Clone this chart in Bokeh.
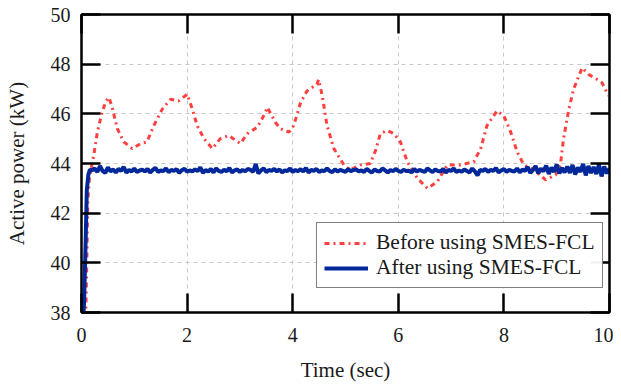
from bokeh.plotting import figure
from bokeh.models import (Range1d, LinearAxis, Legend, LegendItem, FixedTicker,
                          CustomLabelingPolicy)
from bokeh.embed import file_html
from bokeh.resources import INLINE

# ---- data ----
before_t = [0.08, 0.10, 0.12, 0.15, 0.20, 0.23, 0.30, 0.39, 0.46, 0.52, 0.58, 0.68, 0.80, 0.96,
            1.12, 1.24, 1.37, 1.53, 1.69, 1.84, 2.00, 2.10, 2.19, 2.32, 2.48, 2.63, 2.79,
            2.92, 3.01, 3.14, 3.33, 3.45, 3.52, 3.67, 3.77, 3.93, 4.02, 4.15, 4.27, 4.46,
            4.49, 4.56, 4.65, 4.78, 4.97, 5.09, 5.28, 5.47, 5.57, 5.66, 5.79, 5.92, 6.04,
            6.17, 6.36, 6.55, 6.74, 6.93, 7.18, 7.43, 7.56, 7.68, 7.87, 8.00, 8.13, 8.25,
            8.38, 8.57, 8.79, 8.98, 9.07, 9.13, 9.23, 9.32, 9.48, 9.61, 9.77, 9.86, 9.95, 10.0]
before_p = [37.8, 40.0, 42.5, 43.4, 44.0, 44.3, 45.26, 46.06, 46.5, 46.66, 46.26, 45.4, 44.87, 44.6,
            44.8, 44.87, 45.53, 46.19, 46.59, 46.52, 46.79, 46.19, 45.53, 45.0, 44.6, 45.0, 45.13,
            44.93, 44.8, 45.2, 45.46, 45.92, 46.26, 45.66, 45.4, 45.26, 45.53, 46.46, 46.92, 47.19,
            47.38, 46.72, 45.53, 44.6, 43.94, 43.74, 43.94, 44.0, 44.53, 45.2, 45.33, 45.2, 44.87,
            44.07, 43.41, 43.0, 43.27, 43.94, 43.94, 44.07, 44.6, 45.53, 46.12, 45.92, 45.26, 44.47,
            43.94, 43.74, 43.34, 43.54, 43.94, 45.0, 46.19, 46.99, 47.85, 47.58, 47.38, 47.25, 46.85, 46.7]

after_start_t = [0.02, 0.05, 0.08, 0.10, 0.13, 0.16]
after_start_p = [37.0, 38.5, 41.0, 42.9, 43.55, 43.75]
after_body_p = [
    43.72, 43.80, 43.66, 43.90, 43.70, 43.62, 43.85, 43.68, 43.76, 43.64, 43.78, 43.70, 43.86, 43.63, 43.74, 43.68, 43.80, 43.66, 43.72, 43.75,
    43.68, 43.78, 43.64, 43.74, 43.82, 43.66, 43.72, 43.69, 43.80, 43.65, 43.74, 43.70, 43.77, 43.63, 43.73, 43.79, 43.67, 43.72, 43.68, 43.76,
    43.70, 43.84, 43.62, 43.74, 43.68, 43.78, 43.64, 43.80, 43.70, 43.66, 43.75, 43.69, 43.82, 43.64, 43.72, 43.76, 43.66, 43.74, 43.69, 43.78,
    43.74, 43.66, 43.98, 43.60, 43.72, 43.80, 43.65, 43.74, 43.70, 43.78, 43.68, 43.76, 43.64, 43.72, 43.70, 43.80, 43.66, 43.74, 43.69, 43.77,
    43.68, 43.82, 43.64, 43.74, 43.70, 43.78, 43.66, 43.72, 43.69, 43.80, 43.70, 43.65, 43.76, 43.68, 43.74, 43.70, 43.66, 43.78, 43.69, 43.74,
    43.76, 43.68, 43.72, 43.66, 43.78, 43.70, 43.64, 43.76, 43.70, 43.68, 43.80, 43.72, 43.64, 43.74, 43.69, 43.78, 43.70, 43.66, 43.75, 43.70,
    43.71, 43.64, 43.78, 43.68, 43.74, 43.70, 43.66, 43.80, 43.72, 43.65, 43.76, 43.70, 43.68, 43.78, 43.64, 43.74, 43.70, 43.80, 43.66, 43.72,
    43.67, 43.76, 43.70, 43.64, 43.80, 43.68, 43.52, 43.74, 43.70, 43.78, 43.66, 43.74, 43.70, 43.82, 43.64, 43.72, 43.78, 43.66, 43.74, 43.70,
    43.68, 43.80, 43.64, 43.76, 43.70, 43.86, 43.62, 43.74, 43.90, 43.60, 43.80, 43.68, 43.92, 43.58, 43.84, 43.66, 43.96, 43.60, 43.82, 43.64,
    43.88, 43.62, 43.94, 43.56, 43.84, 43.66, 43.98, 43.52, 43.90, 43.62, 43.86, 43.58, 43.96, 43.48, 43.88, 43.60, 43.80]
after_body_t = [round(0.2 + 0.05 * i, 3) for i in range(len(after_body_p))]
after_t = after_start_t + after_body_t
after_p = after_start_p + after_body_p

x_ticks = [0, 2, 4, 6, 8, 10]
y_ticks = [38, 40, 42, 44, 46, 48, 50]

FONT = "Liberation Serif"
RED = "#ff4040"
BLUE = "#00289a"
TXT = "#1a1a1a"

p = figure(width=613, height=384, output_backend="svg", toolbar_location=None,
           x_range=Range1d(0, 10), y_range=Range1d(38, 50),
           min_border_left=81, min_border_right=4, min_border_top=14, min_border_bottom=68)

xb = p.xaxis[0]
yl = p.yaxis[0]
xb.ticker = FixedTicker(ticks=x_ticks)
yl.ticker = FixedTicker(ticks=y_ticks)

r_before = p.line(before_t, before_p, line_color=RED, line_width=3, line_dash="5 4 2 4")
r_after = p.line(after_t, after_p, line_color=BLUE, line_width=4)

no_labels = CustomLabelingPolicy(code="return []")
top = LinearAxis(ticker=FixedTicker(ticks=x_ticks), major_label_policy=no_labels)
right = LinearAxis(ticker=FixedTicker(ticks=y_ticks), major_label_policy=no_labels)
p.add_layout(top, "above")
p.add_layout(right, "right")

for ax in [xb, yl, top, right]:
    ax.axis_line_width = 2
    ax.axis_line_color = "black"
    ax.major_tick_in = 19
    ax.major_tick_out = 0
    ax.major_tick_line_width = 2.5
    ax.major_tick_line_color = "black"
    ax.minor_tick_line_color = None
for ax in [xb, yl]:
    ax.major_label_text_font = FONT
    ax.major_label_text_font_size = "20px"
    ax.major_label_text_color = TXT
    ax.axis_label_text_font = FONT
    ax.axis_label_text_font_size = "21px"
    ax.axis_label_text_font_style = "normal"
    ax.axis_label_text_color = TXT
for ax in [top, right]:
    ax.major_label_text_font_size = "1px"
    ax.major_label_standoff = 0

xb.axis_label = "Time (sec)"
yl.axis_label = "Active power (kW)"
xb.major_label_standoff = 15
xb.axis_label_standoff = 13
yl.major_label_standoff = 11
yl.axis_label_standoff = 19

p.xgrid.grid_line_color = "#c8c8c8"
p.ygrid.grid_line_color = "#c8c8c8"
p.xgrid.grid_line_dash = "4 4"
p.ygrid.grid_line_dash = "4 4"
p.xgrid.ticker = FixedTicker(ticks=x_ticks)
p.ygrid.ticker = FixedTicker(ticks=y_ticks)

p.outline_line_color = "black"
p.outline_line_width = 2

legend = Legend(items=[LegendItem(label="Before using SMES-FCL", renderers=[r_before]),
                       LegendItem(label="After using SMES-FCL", renderers=[r_after])],
                location=(235, 24))
legend.label_text_font = FONT
legend.label_text_font_size = "21.5px"
legend.label_text_color = TXT
legend.border_line_color = "black"
legend.border_line_width = 1.5
legend.glyph_width = 44
legend.glyph_height = 20
legend.spacing = 0
legend.padding = 7
legend.margin = 0
legend.label_height = 24
legend.label_standoff = 8
p.add_layout(legend)

open("out.html", "w").write(file_html(p, INLINE))
